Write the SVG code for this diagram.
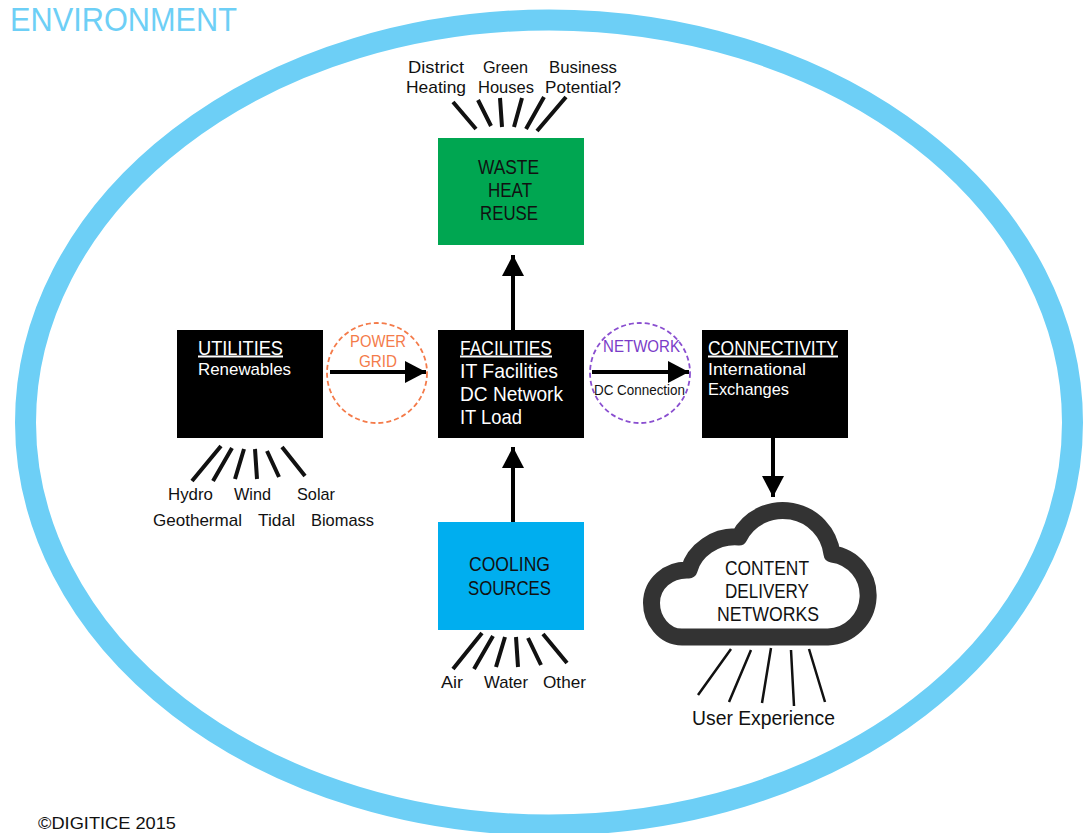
<svg xmlns="http://www.w3.org/2000/svg" width="1085" height="833" viewBox="0 0 1085 833">
<style>
text{font-family:"Liberation Sans","Noto Sans",sans-serif;font-size:17px;fill:#111}
.w{fill:#fff}
.title{font-size:19.8px}
.box{stroke:none}
.ray{stroke:#111;stroke-width:4;fill:none}
.thin{stroke:#111;stroke-width:2.5;fill:none}
.conn{stroke:#000;stroke-width:4;fill:none;marker-end:url(#arrow)}
.u{text-decoration:underline}
.dash{fill:none;stroke-width:1.8;stroke-dasharray:5 3}
</style>
<defs>
<marker id="arrow" markerUnits="userSpaceOnUse" markerWidth="22" markerHeight="24" refX="21" refY="12" orient="auto"><path d="M0 1L21 12L0 23Z" fill="#000"/></marker>
</defs>
<rect width="1085" height="833" fill="#fff"/>
<g id="environment">
<ellipse cx="549" cy="422.5" rx="523.5" ry="402.5" fill="none" stroke="#6dcff6" stroke-width="21"/>
<text x="10" y="31" textLength="227" lengthAdjust="spacingAndGlyphs" style="font-size:33px;fill:#6dcff6">ENVIRONMENT</text>
<text x="38" y="829" textLength="138" lengthAdjust="spacingAndGlyphs">©DIGITICE 2015</text>
</g>
<g id="connectors">
<path class="conn" d="M513 330V255"/>
<path class="conn" d="M330 372H426"/>
<path class="conn" d="M592 372H689"/>
<path class="conn" d="M773 437V497"/>
<path class="conn" d="M513 522V447"/>
</g>
<g id="waste-heat-reuse">
<rect class="box" x="438" y="138" width="146" height="107" fill="#00a651"/>
<text class="title" x="478" y="173.5" textLength="61" lengthAdjust="spacingAndGlyphs">WASTE</text>
<text class="title" x="488" y="196.5" textLength="44" lengthAdjust="spacingAndGlyphs">HEAT</text>
<text class="title" x="480" y="219.5" textLength="58" lengthAdjust="spacingAndGlyphs">REUSE</text>
<path class="ray" d="M453 102L476 129M478 100L491 126M500 98L502 127M522 98L514 127M544 97L526 129M566 97L537 131"/>
<text x="408" y="73" textLength="56" lengthAdjust="spacingAndGlyphs">District</text>
<text x="406" y="93" textLength="60" lengthAdjust="spacingAndGlyphs">Heating</text>
<text x="483" y="73" textLength="45" lengthAdjust="spacingAndGlyphs">Green</text>
<text x="478" y="93" textLength="56" lengthAdjust="spacingAndGlyphs">Houses</text>
<text x="549" y="73" textLength="68" lengthAdjust="spacingAndGlyphs">Business</text>
<text x="545" y="93" textLength="76" lengthAdjust="spacingAndGlyphs">Potential?</text>
</g>
<g id="utilities">
<rect class="box" x="177" y="330" width="146" height="108" fill="#000"/>
<text class="w u title" x="198" y="354.5" textLength="85" lengthAdjust="spacingAndGlyphs">UTILITIES</text>
<text class="w" x="198" y="375" textLength="93" lengthAdjust="spacingAndGlyphs">Renewables</text>
<path class="ray" d="M221 446L192 481M232 448L213 481M244 449L235 479M255 449L257 479M267 451L279 477M282 447L305 476"/>
<text x="168" y="500" textLength="45" lengthAdjust="spacingAndGlyphs">Hydro</text>
<text x="234" y="500" textLength="37" lengthAdjust="spacingAndGlyphs">Wind</text>
<text x="297" y="500" textLength="38" lengthAdjust="spacingAndGlyphs">Solar</text>
<text x="153" y="526" textLength="89" lengthAdjust="spacingAndGlyphs">Geothermal</text>
<text x="258" y="526" textLength="37" lengthAdjust="spacingAndGlyphs">Tidal</text>
<text x="311" y="526" textLength="63" lengthAdjust="spacingAndGlyphs">Biomass</text>
</g>
<g id="power-grid">
<circle class="dash" cx="377" cy="373" r="50" stroke="#f47b4a"/>
<text x="350" y="347" textLength="56" lengthAdjust="spacingAndGlyphs" style="fill:#f47b4a">POWER</text>
<text x="359" y="367" textLength="38" lengthAdjust="spacingAndGlyphs" style="fill:#f47b4a">GRID</text>
</g>
<g id="facilities">
<rect class="box" x="438" y="330" width="146" height="108" fill="#000"/>
<text class="w u title" x="460" y="354.5" textLength="92" lengthAdjust="spacingAndGlyphs">FACILITIES</text>
<text class="w title" x="460" y="377.5" textLength="98" lengthAdjust="spacingAndGlyphs">IT Facilities</text>
<text class="w title" x="460" y="400.5" textLength="103" lengthAdjust="spacingAndGlyphs">DC Network</text>
<text class="w title" x="460" y="423.5" textLength="62" lengthAdjust="spacingAndGlyphs">IT Load</text>
</g>
<g id="network">
<circle class="dash" cx="640" cy="373" r="50" stroke="#8a4fd0"/>
<text x="603" y="352" textLength="77" lengthAdjust="spacingAndGlyphs" style="fill:#7a3cc8">NETWORK</text>
<text x="594" y="395" textLength="91" lengthAdjust="spacingAndGlyphs" style="font-size:14px">DC Connection</text>
</g>
<g id="connectivity">
<rect class="box" x="702" y="330" width="146" height="108" fill="#000"/>
<text class="w u title" x="708" y="354.5" textLength="130" lengthAdjust="spacingAndGlyphs">CONNECTIVITY</text>
<text class="w" x="708" y="375" textLength="98" lengthAdjust="spacingAndGlyphs">International</text>
<text class="w" x="708" y="395" textLength="81" lengthAdjust="spacingAndGlyphs">Exchanges</text>
</g>
<g id="cooling-sources">
<rect class="box" x="438" y="522" width="146" height="108" fill="#00aeef"/>
<text class="title" x="469" y="570.5" textLength="81" lengthAdjust="spacingAndGlyphs">COOLING</text>
<text class="title" x="468" y="594.5" textLength="83" lengthAdjust="spacingAndGlyphs">SOURCES</text>
<path class="ray" d="M482 633L453 669M493 636L474 669M505 637L496 667M516 637L518 667M528 638L541 665M543 634L567 663"/>
<text x="441" y="688" textLength="22" lengthAdjust="spacingAndGlyphs">Air</text>
<text x="484" y="688" textLength="44" lengthAdjust="spacingAndGlyphs">Water</text>
<text x="543" y="688" textLength="43" lengthAdjust="spacingAndGlyphs">Other</text>
</g>
<g id="content-delivery-networks">
<path d="M682 637C664 637 651.5 620 651.5 603C651.5 584 668 569 689 570C694 551 715 535 739 537A49.5 49.5 0 0 1 832 554A41.7 41.7 0 0 1 828 637Z" fill="#fff" stroke="#333" stroke-width="17" stroke-linejoin="round"/>
<text class="title" x="725" y="574.5" textLength="84" lengthAdjust="spacingAndGlyphs">CONTENT</text>
<text class="title" x="725" y="597.5" textLength="84" lengthAdjust="spacingAndGlyphs">DELIVERY</text>
<text class="title" x="717" y="620.5" textLength="102" lengthAdjust="spacingAndGlyphs">NETWORKS</text>
<path class="thin" d="M731 649L698 695M751 650L729 702M771 648L762 703M791 650L794 706M809 649L825 702"/>
<text class="title" x="692" y="725" textLength="143" lengthAdjust="spacingAndGlyphs">User Experience</text>
</g>
</svg>
